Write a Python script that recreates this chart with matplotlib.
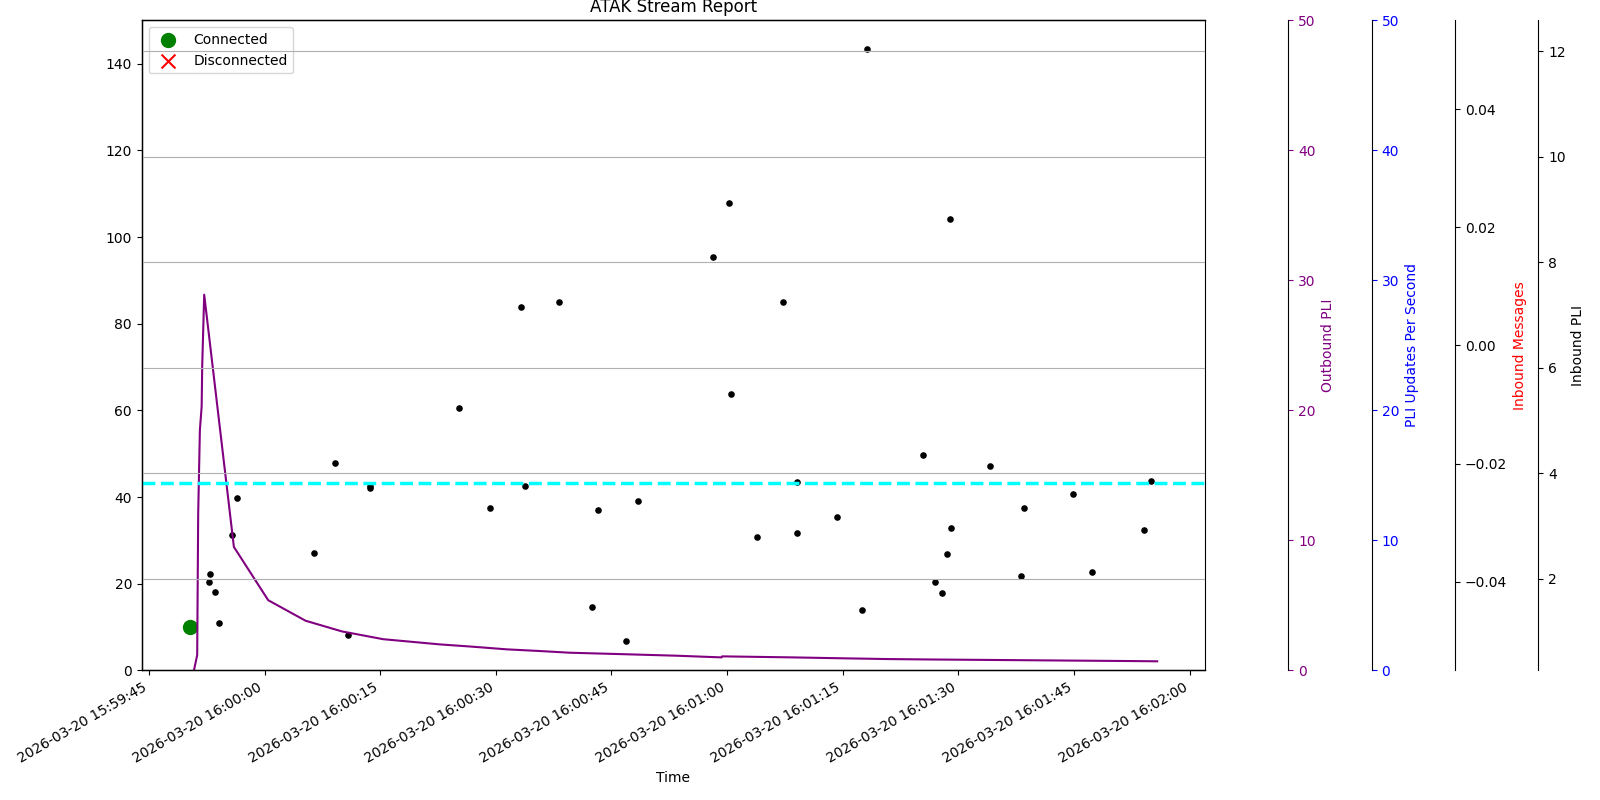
import numpy as np
import pandas as pd
import matplotlib
matplotlib.use("Agg")
import matplotlib.pyplot as plt
import matplotlib.dates as mdates

# start of the x axis, all times below are seconds after it
base_time = pd.Timestamp("2026-03-20 15:59:45")

# connection events
connected_t = [5.36]
connected_y = [10]
disconnected_t = []
disconnected_y = []

# outbound PLI (purple line)
outbound_t = [5.84, 6.26, 6.39, 6.61, 6.84, 6.91, 7.17, 11.02, 15.47, 20.32, 25.03,
              30.39, 37.74, 42.06, 46.4, 50.71, 54.6, 61.96, 68.44, 74.28, 74.36,
              83.57, 90.05, 96.1, 101.3, 107.8, 114.3, 120.75, 127.2, 130.78]
outbound_val = [0, 1.18, 12.1, 18.5, 20.3, 23.4, 28.9, 9.5, 5.4, 3.82, 3.0,
                2.4, 2.0, 1.82, 1.62, 1.49, 1.36, 1.24, 1.13, 1.0, 1.08,
                1.0, 0.93, 0.87, 0.84, 0.81, 0.78, 0.75, 0.72, 0.70]

# inbound PLI points (black dots)
inbound_t = [7.82, 7.95, 8.6, 9.12, 10.8, 11.45, 21.4, 24.2, 25.85, 28.65, 28.7,
             40.2, 44.3, 48.2, 48.8, 53.2, 57.5, 58.3, 61.9, 63.5, 73.2, 75.2,
             75.5, 78.9, 82.3, 84.0, 84.0, 89.3, 92.5, 93.2, 100.4, 102.0, 102.9,
             103.5, 103.9, 104.1, 109.1, 113.1, 113.5, 119.8, 122.3, 129.1, 130.0]
inbound_val = [20.3, 22.2, 18.2, 10.9, 31.2, 39.7, 27.0, 47.8, 8.1, 42.0, 42.5,
               60.6, 37.5, 83.8, 42.6, 84.9, 14.6, 37.1, 6.8, 39.0, 95.5, 107.8,
               63.7, 30.7, 84.9, 43.4, 31.8, 35.4, 14.0, 143.3, 49.8, 20.3, 17.9,
               26.9, 104.1, 32.8, 47.2, 21.7, 37.4, 40.8, 22.8, 32.5, 43.6]

# average PLI updates per second
avg_pli_rate = 14.44

# inbound messages (none)
msg_t = [5.84, 130.78]
msg_val = [0, 0]


def to_time(secs):
    return (base_time + pd.to_timedelta(secs, unit="s")).to_numpy()


fig, ax = plt.subplots(figsize=(16, 8), dpi=100)
fig.subplots_adjust(left=0.0886, right=0.7532, bottom=0.162, top=0.9745)

ax.scatter(to_time(connected_t), connected_y, color="green", s=100, label="Connected")
ax.scatter(to_time(disconnected_t), disconnected_y, color="red", marker="x", s=100,
           label="Disconnected")
ax.scatter(to_time(inbound_t), inbound_val, color="black", s=14)
ax.set_ylim(0, 150)
ax.legend(loc="upper left")
ax.set_xlabel("Time")
ax.set_title("ATAK Stream Report")

# outbound PLI axis
ax_out = ax.twinx()
ax_out.spines["right"].set_position(("outward", 60))
ax_out.plot(to_time(outbound_t), outbound_val, color="purple", linewidth=1.5)
ax_out.set_ylim(0, 50)
ax_out.set_ylabel("Outbound PLI", color="purple")
ax_out.tick_params(axis="y", colors="purple")

# PLI updates per second axis
ax_rate = ax.twinx()
ax_rate.spines["right"].set_position(("outward", 120))
ax_rate.axhline(avg_pli_rate, color="cyan", linestyle="--", linewidth=2.5)
ax_rate.set_ylim(0, 50)
ax_rate.set_ylabel("PLI Updates Per Second", color="blue")
ax_rate.tick_params(axis="y", colors="blue")

# inbound messages axis
ax_msg = ax.twinx()
ax_msg.spines["right"].set_position(("outward", 180))
ax_msg.plot(to_time(msg_t), msg_val, linewidth=0)
ax_msg.set_ylim(-0.055, 0.055)
ax_msg.set_ylabel("Inbound Messages", color="red")

# inbound PLI axis (grid comes from here)
ax_in = ax.twinx()
ax_in.spines["right"].set_position(("outward", 240))
ax_in.set_ylim(0.26, 12.58)
ax_in.set_ylabel("Inbound PLI", color="black")
ax_in.yaxis.grid(True)

ax.set_xlim(to_time([-0.93])[0], to_time([137.0])[0])
ax.xaxis.set_major_locator(mdates.SecondLocator(bysecond=[0, 15, 30, 45]))
ax.xaxis.set_major_formatter(mdates.DateFormatter("%Y-%m-%d %H:%M:%S"))
plt.setp(ax.get_xticklabels(), rotation=30, ha="right")

fig.savefig("out.png")
